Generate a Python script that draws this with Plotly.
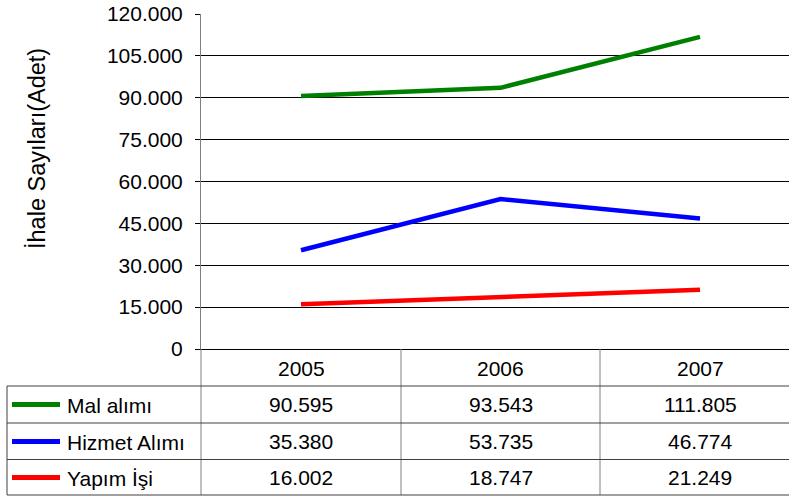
import plotly.graph_objects as go

years = ["2005", "2006", "2007"]
series_names = ["Mal alımı", "Hizmet Alımı", "Yapım İşi"]
mal_alimi = [90595, 93543, 111805]
hizmet_alimi = [35380, 53735, 46774]
yapim_isi = [16002, 18747, 21249]
series_values = [mal_alimi, hizmet_alimi, yapim_isi]
series_colors = ["#008000", "#0000FF", "#FF0000"]
y_title = "İhale Sayıları(Adet)"

W, H = 789, 500
L, R, T, B = 201, 0, 14, 151
PW, PH = W - L - R, H - T - B
FONT = "Liberation Sans, Arial, sans-serif"


def px_x(px):
    return (px - L) / PW


def px_y(py):
    return (H - B - py) / PH


def fmt(v):
    return f"{v:,}".replace(",", ".")


fig = go.Figure()
xs = list(range(len(years)))
for name, vals, col in zip(series_names, series_values, series_colors):
    fig.add_trace(go.Scatter(x=xs, y=vals, mode="lines", name=name,
                             line=dict(color=col, width=4.5), hoverinfo="skip"))

shapes = []
annotations = []
GRAY = "#808080"
DARK = "#404040"
col_bounds = [201, 401, 600]
for cx in col_bounds:
    shapes.append(dict(type="line", xref="paper", yref="paper",
                       x0=px_x(cx), x1=px_x(cx), y0=px_y(349), y1=px_y(495),
                       line=dict(color=GRAY, width=1)))
shapes.append(dict(type="line", xref="paper", yref="paper",
                   x0=px_x(7), x1=px_x(7), y0=px_y(386), y1=px_y(495),
                   line=dict(color=DARK, width=1)))
row_lines = [386, 423, 459.5, 495]
for ry in row_lines:
    shapes.append(dict(type="line", xref="paper", yref="paper",
                       x0=px_x(7), x1=px_x(790), y0=px_y(ry), y1=px_y(ry),
                       line=dict(color=DARK, width=1)))

for i, yr in enumerate(years):
    annotations.append(dict(x=i, y=px_y(368), xref="x", yref="paper", text=yr,
                            showarrow=False, xanchor="center", yanchor="middle",
                            font=dict(size=21, color="black", family=FONT)))
row_centers = [404.5, 441.5, 477.5]
for name, vals, col, rc in zip(series_names, series_values, series_colors, row_centers):
    shapes.append(dict(type="line", xref="paper", yref="paper",
                       x0=px_x(12), x1=px_x(60), y0=px_y(rc), y1=px_y(rc),
                       line=dict(color=col, width=5)))
    annotations.append(dict(x=px_x(65), y=px_y(rc + 1), xref="paper", yref="paper", text=name,
                            showarrow=False, xanchor="left", yanchor="middle",
                            font=dict(size=21, color="black", family=FONT)))
    for i, v in enumerate(vals):
        annotations.append(dict(x=i, y=px_y(rc), xref="x", yref="paper", text=fmt(v),
                                showarrow=False, xanchor="center", yanchor="middle",
                                font=dict(size=21, color="black", family=FONT)))

annotations.append(dict(x=px_x(37), y=px_y(149), xref="paper", yref="paper", text=y_title,
                        showarrow=False, textangle=-90, xanchor="center", yanchor="middle",
                        font=dict(size=23.5, color="black", family=FONT)))

fig.update_layout(
    width=W, height=H,
    margin=dict(l=L, r=R, t=T, b=B, pad=0),
    paper_bgcolor="white", plot_bgcolor="white",
    showlegend=False,
    separators=",.",
    font=dict(family=FONT, size=21, color="black"),
    shapes=shapes, annotations=annotations,
    hovermode=False,
)
fig.update_xaxes(range=[-0.50125, 2.446], showticklabels=False, showgrid=False,
                 zeroline=False, showline=True, linecolor="black", linewidth=1, ticks="")
fig.update_yaxes(range=[0, 120000], dtick=15000, tick0=0, tickformat=",d",
                 showgrid=True, gridcolor="black", gridwidth=1, zeroline=False,
                 showline=True, linecolor=GRAY, linewidth=1,
                 ticks="outside", ticklen=5, tickcolor="black", tickwidth=1,
                 ticklabelstandoff=8,
                 tickfont=dict(size=21, color="black", family=FONT))

fig.write_html("out.html", config={"displayModeBar": False},
               post_script="document.body.style.margin='0';document.body.style.overflow='hidden';")
